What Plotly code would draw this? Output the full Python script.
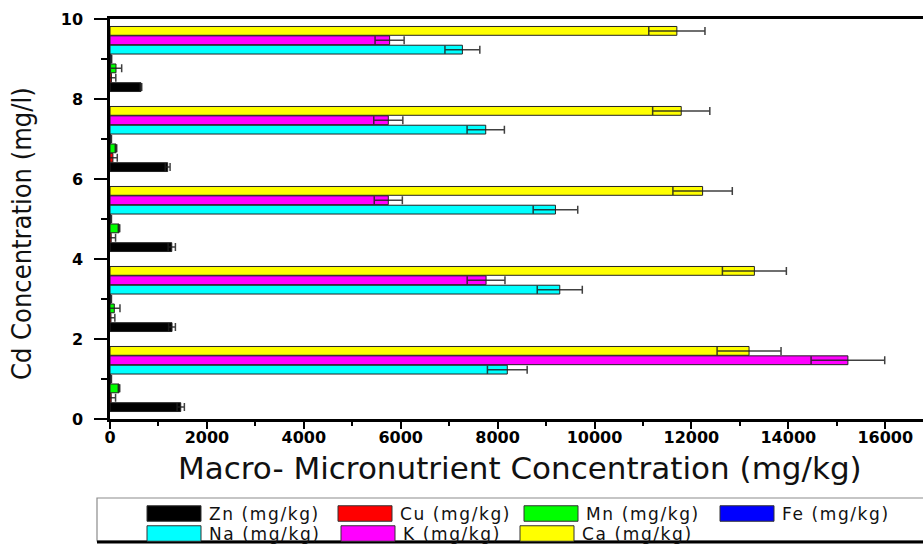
import plotly.graph_objects as go

# ---------------- data ----------------
cd_positions = [1, 3, 5, 7, 9]
series_names = ["Zn (mg/kg)", "Cu (mg/kg)", "Mn (mg/kg)", "Fe (mg/kg)",
                "Na (mg/kg)", "K (mg/kg)", "Ca (mg/kg)"]
zn = [1460, 1280, 1275, 1190, 640]
zn_err = [75, 70, 75, 50, 15]
cu = [25, 20, 25, 60, 30]
cu_err = [90, 80, 90, 90, 90]
mn = [186, 89, 186, 124, 124]
mn_err = [15, 117, 15, 15, 117]
fe = [20, 20, 20, 20, 25]
fe_err = [10, 10, 10, 10, 10]
na = [8200, 9283, 9194, 7755, 7273]
na_err = [410, 465, 460, 385, 360]
k = [15230, 7762, 5744, 5744, 5771]
k_err = [760, 390, 290, 300, 300]
ca = [13190, 13300, 12231, 11790, 11700]
ca_err = [660, 660, 613, 590, 580]
y_tick_vals = [0, 2, 4, 6, 8, 10]
x_tick_vals = [0, 2000, 4000, 6000, 8000, 10000, 12000, 14000, 16000]
x_tick_text = ["0", "2000", "4000", "6000", "8000", "10000", "12000", "14000", "16000"]

values = [zn, cu, mn, fe, na, k, ca]
errors = [zn_err, cu_err, mn_err, fe_err, na_err, k_err, ca_err]
colors = ["#000000", "#FF0000", "#00FF00", "#0000FF", "#00FFFF", "#FF00FF", "#FFFF00"]

# ---------------- layout constants (pixels) ----------------
W, H = 923, 544
PL, PR, PT, PB = 110, 923, 19, 419          # plot area edges in px
PW, PH = PR - PL, PB - PT


def px_x(p):
    return (p - PL) / PW


def px_y(p):
    return (PB - p) / PH


legend_row = [0, 0, 0, 0, 1, 1, 1]
legend_left_px = [147, 338, 524, 720, 147, 341, 520]
legend_row_px = [513.5, 533.5]
sw_w, sw_h = 54, 15.5

fig = go.Figure()
for name, v, e, c in zip(series_names, values, errors, colors):
    fig.add_trace(go.Bar(
        y=cd_positions, x=v, orientation="h", name=name,
        marker=dict(color=c, line=dict(color="#222222", width=1)),
        error_x=dict(type="data", array=e, visible=True, color="rgba(30,30,30,0.85)",
                     thickness=1.5, width=4),
        showlegend=False,
    ))

shapes = []
annotations = []
# legend box
shapes.append(dict(type="rect", xref="paper", yref="paper",
                   x0=px_x(97), x1=px_x(935), y0=px_y(541), y1=px_y(498),
                   line=dict(color="#8c8c8c", width=1.2), fillcolor="rgba(0,0,0,0)", layer="above"))
shapes.append(dict(type="line", xref="paper", yref="paper",
                   x0=px_x(97), x1=px_x(935), y0=px_y(542), y1=px_y(542),
                   line=dict(color="#000000", width=3)))
for i, name in enumerate(series_names):
    cy = legend_row_px[legend_row[i]]
    x0 = legend_left_px[i]
    shapes.append(dict(type="rect", xref="paper", yref="paper",
                       x0=px_x(x0), x1=px_x(x0 + sw_w),
                       y0=px_y(cy + sw_h / 2), y1=px_y(cy - sw_h / 2),
                       line=dict(color="#333333", width=1), fillcolor=colors[i]))
    annotations.append(dict(xref="paper", yref="paper", x=px_x(x0 + sw_w + 6), y=px_y(cy),
                            text='<span style="letter-spacing:1.6px">' + name + '</span>',
                            showarrow=False, xanchor="left", yanchor="middle",
                            font=dict(family="DejaVu Sans", size=17, color="#111111")))

# axis titles
annotations.append(dict(xref="paper", yref="paper", x=px_x(520), y=px_y(468),
                        text="Macro- Micronutrient Concentration (mg/kg)", showarrow=False,
                        xanchor="center", yanchor="middle",
                        font=dict(family="DejaVu Sans", size=31, color="#111111")))
annotations.append(dict(xref="paper", yref="paper", x=px_x(21), y=px_y(234),
                        text="Cd Concentration (mg/l)", showarrow=False, textangle=-90,
                        xanchor="center", yanchor="middle",
                        font=dict(family="Liberation Sans Narrow, DejaVu Sans Condensed, sans-serif",
                                  size=27, color="#111111")))

tick_font = dict(family="DejaVu Sans", size=16, color="#000000", weight="bold")

fig.update_layout(
    width=W, height=H,
    margin=dict(l=PL, r=W - PR, t=PT, b=H - PB, pad=0),
    paper_bgcolor="white", plot_bgcolor="white",
    barmode="group", bargap=0.18, bargroupgap=0.06,
    shapes=shapes, annotations=annotations,
    xaxis=dict(range=[0, 16780], tickvals=x_tick_vals, ticktext=x_tick_text,
               ticks="outside", ticklen=7,
               tickwidth=2, tickcolor="#000000", showline=True, linecolor="#000000",
               linewidth=2.5, mirror=True, showgrid=False, zeroline=False,
               tickfont=tick_font, ticklabelstandoff=-5,
               minor=dict(dtick=1000, tick0=0, ticks="outside", ticklen=4, tickwidth=2,
                          tickcolor="#000000", showgrid=False)),
    yaxis=dict(range=[0, 10], tickvals=y_tick_vals, ticks="outside", ticklen=13,
               tickwidth=2, tickcolor="#000000", showline=True, linecolor="#000000",
               linewidth=2.5, showgrid=False, zeroline=False,
               tickfont=tick_font, ticklabelstandoff=8,
               minor=dict(dtick=1, tick0=0, ticks="outside", ticklen=6, tickwidth=2,
                          tickcolor="#000000", showgrid=False)),
)

fig.write_html("out.html")
